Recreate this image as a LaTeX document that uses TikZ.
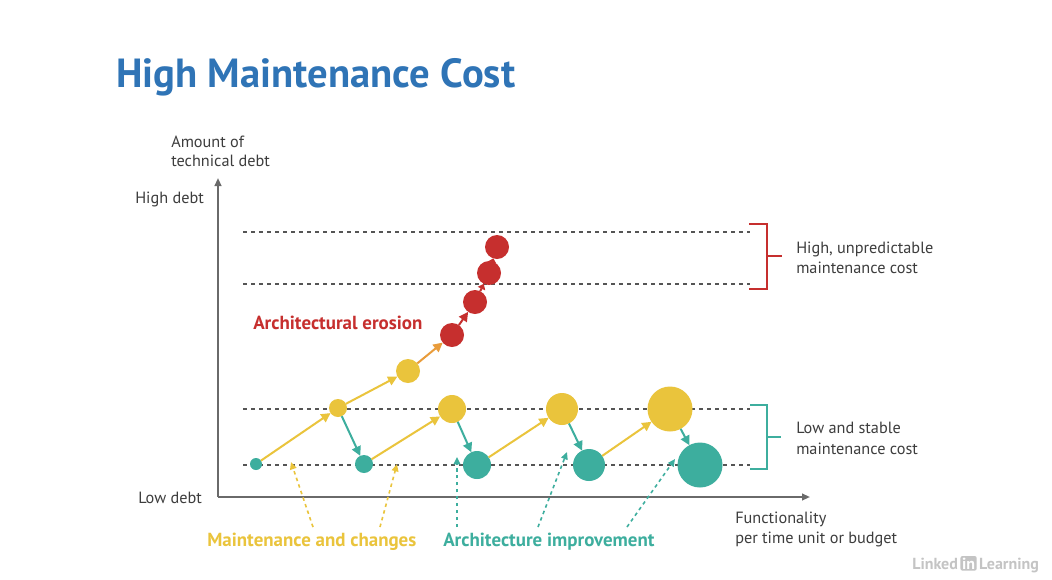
\documentclass[tikz,border=0pt]{standalone}
\usepackage{fontspec}
\setmainfont{PT Sans}
\usetikzlibrary{arrows.meta}
\definecolor{titleblue}{HTML}{2F74B6}
\definecolor{ink}{HTML}{3D3D3D}
\definecolor{axisgray}{HTML}{6A6A6A}
\definecolor{dotgray}{HTML}{555555}
\definecolor{mgold}{HTML}{EAC43C}
\definecolor{mteal}{HTML}{3DAE9E}
\definecolor{mred}{HTML}{C62F2E}
\definecolor{morange}{HTML}{E99C3B}
\definecolor{markgray}{HTML}{C4C4C4}
\begin{document}
\begin{tikzpicture}[x=0.75pt,y=-0.75pt,
  dot/.style={circle,inner sep=0pt,outer sep=0pt,minimum size={#1*0.75pt}},
  ydot/.style={dot=#1,fill=mgold},
  tdot/.style={dot=#1,fill=mteal},
  rdot/.style={dot=#1,fill=mred},
  lbl/.style={font=\fontsize{12.2}{15}\selectfont,text=ink,anchor=base west,inner sep=0pt},
  key/.style={font=\bfseries\fontsize{14.2}{17}\selectfont,anchor=base west,inner sep=0pt},
  guide/.style={dotgray,line width=1.1pt,dash pattern=on 3pt off 3pt},
  axis/.style={axisgray,line width=1.4pt,-{Triangle[length=6pt,width=5pt]}},
  flow/.style={line width=1.5pt,-{Triangle[length=7pt,width=7pt]}},
  pointer/.style={line width=1.2pt,dash pattern=on 2.6pt off 2.6pt,-{Triangle[length=5.5pt,width=5pt]}},
  brace/.style={line width=1.3pt},
]
\useasboundingbox[fill=white] (0,0) rectangle (1052,579);

% title
\node[anchor=base west,inner sep=0pt,text=titleblue,font=\bfseries\fontsize{30.5}{36}\selectfont] (title) at (116,87) {High Maintenance Cost};

% axes
\coordinate (origin) at (218,497);
\coordinate (ytop) at (218,178);
\coordinate (xend) at (810,497);
\draw[axis] (origin) -- (ytop);
\draw[axis] (origin) -- (xend);

% axis labels
\node[lbl] (yl1) at (171,147) {Amount of};
\node[lbl] (yl2) at (171,166) {technical debt};
\node[lbl] (hi) at (135,203) {High debt};
\node[lbl] (lo) at (138,503) {Low debt};
\node[lbl] (xl1) at (735,523) {Functionality};
\node[lbl] (xl2) at (735,543) {per time unit or budget};

% debt levels
\coordinate (h1a) at (243,232); \coordinate (h1b) at (750,232);
\coordinate (h2a) at (243,284); \coordinate (h2b) at (750,284);
\coordinate (l1a) at (243,409); \coordinate (l1b) at (750,409);
\coordinate (l2a) at (243,465); \coordinate (l2b) at (750,465);
\draw[guide] (h1a) -- (h1b);
\draw[guide] (h2a) -- (h2b);
\draw[guide] (l1a) -- (l1b);
\draw[guide] (l2a) -- (l2b);

% brackets
\draw[brace,mred] (749,224) -- (767,224) -- (767,289) -- (749,289);
\draw[brace,mred] (767,256) -- (782,256);
\draw[brace,mteal] (750,405) -- (767,405) -- (767,469) -- (750,469);
\draw[brace,mteal] (767,437) -- (781,437);
\node[lbl] (hc1) at (796,253) {High, unpredictable};
\node[lbl] (hc2) at (796,273) {maintenance cost};
\node[lbl] (lc1) at (796,433) {Low and stable};
\node[lbl] (lc2) at (796,454) {maintenance cost};

% states
\node[tdot=12] (t0) at (256,464) {};
\node[ydot=18] (y1) at (338,408) {};
\node[tdot=18] (t1) at (364,464) {};
\node[ydot=24] (e0) at (408,371) {};
\node[rdot=24] (r1) at (452,335) {};
\node[rdot=24] (r2) at (475,302) {};
\node[rdot=24] (r3) at (489,273) {};
\node[rdot=24] (r4) at (497,247) {};
\node[ydot=28] (y2) at (452,409) {};
\node[tdot=28] (t2) at (477,465) {};
\node[ydot=32] (y3) at (562,409) {};
\node[tdot=32] (t3) at (589,465) {};
\node[ydot=45] (y4) at (670,409) {};
\node[tdot=45] (t4) at (700,465) {};

% transitions
\draw[flow,mgold] (t0) -- (y1);
\draw[flow,mgold] (y1) -- (e0);
\draw[flow,morange] (e0) -- (r1);
\draw[flow,mred] (r1) -- (r2);
\draw[flow,mred,-{Triangle[length=4pt,width=6pt]}] (r2) -- (r3);
\draw[flow,mred,-{Triangle[length=3pt,width=6pt]}] (r3) -- (r4);
\draw[flow,mteal] (y1) -- (t1);
\draw[flow,mgold] (t1) -- (y2);
\draw[flow,mteal] (y2) -- (t2);
\draw[flow,mgold] (t2) -- (y3);
\draw[flow,mteal] (y3) -- (t3);
\draw[flow,mgold] (t3) -- (y4);
\draw[flow,mteal] (y4) -- (t4);

% legend labels
\node[key,text=mred] (erosion) at (253,329) {Architectural erosion};
\node[key,text=mgold] (maint) at (207,546) {Maintenance and changes};
\node[key,text=mteal] (improve) at (443,546) {Architecture improvement};

% pointers
\coordinate (m1s) at (313,527); \coordinate (m1e) at (291,462);
\coordinate (m2s) at (380,527); \coordinate (m2e) at (397,464);
\coordinate (a1s) at (457,527); \coordinate (a1e) at (457,457);
\coordinate (a2s) at (538,527); \coordinate (a2e) at (567,452);
\coordinate (a3s) at (627,527); \coordinate (a3e) at (675,459);
\draw[pointer,mgold] (m1s) -- (m1e);
\draw[pointer,mgold] (m2s) -- (m2e);
\draw[pointer,mteal] (a1s) -- (a1e);
\draw[pointer,mteal] (a2s) -- (a2e);
\draw[pointer,mteal] (a3s) -- (a3e);

% watermark
\node[anchor=base west,inner sep=0pt,text=markgray,font=\bfseries\fontsize{12}{14}\selectfont] (wm1) at (912,569) {Linked};
\node[anchor=base west,inner sep=1.2pt,text=white,fill=markgray,rounded corners=1.5pt,font=\bfseries\fontsize{12}{14}\selectfont] (wm2) at ([xshift=1.5pt]wm1.base east) {in};
\node[anchor=base west,inner sep=0pt,text=markgray,font=\bfseries\fontsize{12}{14}\selectfont] (wm3) at ([xshift=1.5pt]wm2.base east) {Learning};
\end{tikzpicture}
\end{document}
